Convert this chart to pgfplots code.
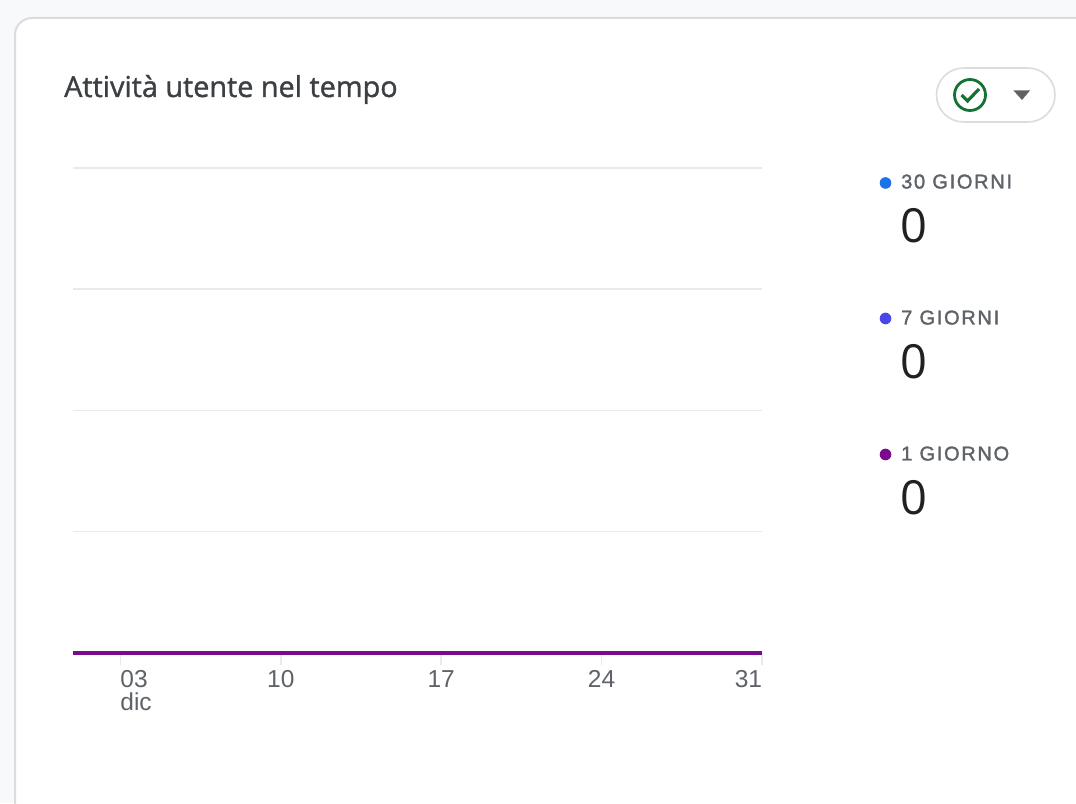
\documentclass[border=0pt]{standalone}
\usepackage{fontspec}
\usepackage{pgfplots}
\pgfplotsset{compat=1.18}
\setmainfont{Liberation Sans}
\newfontfamily\titlefont[FakeBold=1.2]{Open Sans}
\newfontfamily\legfont[LetterSpace=8.5,FakeBold=1.6]{Liberation Sans}
\newfontfamily\numfont{Open Sans}
\definecolor{bgc}{HTML}{F8F9FA}
\definecolor{bordc}{HTML}{DADCE0}
\definecolor{gridc}{HTML}{E8E9EB}
\definecolor{txtc}{HTML}{5F6368}
\definecolor{titc}{HTML}{3C4043}
\definecolor{numc}{HTML}{202124}
\definecolor{sone}{HTML}{1A73E8}
\definecolor{stwo}{HTML}{4A47E8}
\definecolor{sthree}{HTML}{7B0A8E}
\definecolor{okc}{HTML}{137333}
\usepackage{pgfplotstable}
\pgfplotstableread{
day val
0.93 0
2 0
3 0
4 0
5 0
6 0
7 0
8 0
9 0
10 0
11 0
12 0
13 0
14 0
15 0
16 0
17 0
18 0
19 0
20 0
21 0
22 0
23 0
24 0
25 0
26 0
27 0
28 0
29 0
30 0
31 0
}\zerodata
\begin{document}
\begin{tikzpicture}[x=1pt,y=1pt]
\useasboundingbox (0,0) rectangle (1076,803);
\clip (0,0) rectangle (1076,803);
\fill[bgc] (0,0) rectangle (1076,803);
\draw[bordc,line width=2pt,fill=white,rounded corners=17pt] (15,-30) -- (15,785) -- (1110,785) -- (1110,-30) -- cycle;
\node[anchor=base west,inner sep=0pt,text=titc] at (64,706) {\titlefont\fontsize{28.8}{32}\selectfont Attività utente nel tempo};
% filter button
\draw[bordc,line width=1.6pt,fill=white,rounded corners=27pt] (936.5,681) rectangle (1055,735);
\draw[okc,line width=2.8pt] (970,708) circle (15.5);
\draw[okc,line width=3.2pt] (961.5,708) -- (967.5,702) -- (979,714);
\fill[txtc] (1013.5,712.5) -- (1030,712.5) -- (1022,703) -- cycle;
% legend
\fill[sone] (885.5,620) circle (5.8);
\fill[stwo] (885.5,484.5) circle (5.8);
\fill[sthree] (885.5,348.5) circle (5.8);
\node[anchor=base west,inner sep=0pt,text=txtc] at (901,614.5) {\legfont\fontsize{20}{24}\selectfont 30 GIORNI};
\node[anchor=base west,inner sep=0pt,text=txtc] at (901,478.5) {\legfont\fontsize{20}{24}\selectfont 7 GIORNI};
\node[anchor=base west,inner sep=0pt,text=txtc] at (901,342.5) {\legfont\fontsize{20}{24}\selectfont 1 GIORNO};
\node[anchor=base west,inner sep=0pt,text=numc] at (900,560) {\numfont\fontsize{47}{50}\selectfont 0};
\node[anchor=base west,inner sep=0pt,text=numc] at (900,424) {\numfont\fontsize{47}{50}\selectfont 0};
\node[anchor=base west,inner sep=0pt,text=numc] at (900,288) {\numfont\fontsize{47}{50}\selectfont 0};
\begin{axis}[
  at={(73pt,150pt)},anchor=south west,
  scale only axis,width=689pt,height=485pt,
  xmin=0.93,xmax=31,ymin=0,ymax=4,
  axis line style={draw=none},
  xtick pos=bottom,
  xtick={3,10,17,24,31},
  xticklabels={{\makebox[0pt][l]{03}\\\makebox[0pt][l]{dic}},10,17,24,{\makebox[0pt][r]{31}}},
  ytick={0,1,2,3,4},yticklabels={},
  ymajorgrids,
  grid style={gridc,line width=1.5pt},
  tick align=outside,
  major tick length=12pt,
  x tick style={gridc,line width=1.5pt},
  y tick style={draw=none},
  tick label style={text=txtc},
  x tick label style={font=\fontsize{24.5}{23.5}\selectfont,align=center,inner sep=0pt,yshift=-5pt,anchor=north},
  clip=false,
]
\addplot[sone,line width=4pt] table[x=day,y=val] {\zerodata};
\addplot[stwo,line width=4pt] table[x=day,y=val] {\zerodata};
\addplot[sthree,line width=4pt] table[x=day,y=val] {\zerodata};
\end{axis}
\end{tikzpicture}
\end{document}
